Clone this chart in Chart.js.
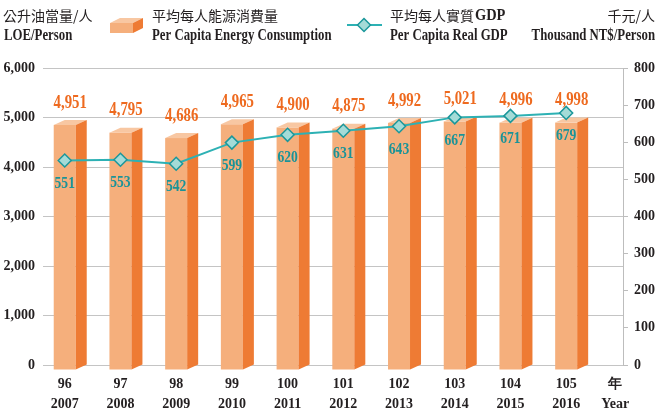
<!DOCTYPE html>
<html><head><meta charset="utf-8">
<script src="https://cdn.jsdelivr.net/npm/chart.js@4/dist/chart.umd.min.js"></script>
<style>html,body{margin:0;padding:0;background:#fff;}#wrap{width:658px;height:408px;position:relative;}</style>
</head><body><div id="wrap"><canvas id="c" width="658" height="408"></canvas></div>
<script>
// ---- data ----
const rocYears = ['96','97','98','99','100','101','102','103','104','105'];
const adYears = ['2007','2008','2009','2010','2011','2012','2013','2014','2015','2016'];
const yearUnit = ['年','Year'];
const energyPerCapita = [4951,4795,4686,4965,4900,4875,4992,5021,4996,4998];
const gdpPerCapita = [551,553,542,599,620,631,643,667,671,679];
const leftAxisRange = [0,6000,1000];
const rightAxisRange = [0,800,100];

// ---- styles ----
const FRONT = '#F5AF7C', SIDE = '#EE7B34', TOP = '#F8C7A2';
const LINE = '#2DB1B4', PFILL = '#A4DBD7', PBORDER = '#1B979B';
const DARK = '#231F20', ORANGE = '#EE6A1F', TEAL = '#1A9398';
const SERIF = '"Liberation Serif","Times New Roman",serif';
const CJK = '"Noto Sans CJK TC","Noto Sans CJK SC",sans-serif';
const DX = 11, DY = 5;

function fitText(ctx, text, x, y, font, color, align, sx) {
  ctx.save();
  ctx.font = font; ctx.fillStyle = color; ctx.textBaseline = 'middle';
  const w = ctx.measureText(text).width * sx;
  let left = align === 'center' ? x - w / 2 : align === 'right' ? x - w : x;
  ctx.translate(left, y); ctx.scale(sx, 1);
  ctx.textAlign = 'left';
  ctx.fillText(text, 0, 0);
  ctx.restore();
}

const bars3d = {
  id: 'bars3d',
  beforeDatasetDraw(chart, args) {
    if (args.index !== 0) return;
    const ctx = chart.ctx;
    ctx.save();
    args.meta.data.forEach(el => {
      const w = el.width, l = el.x - w / 2, r = el.x + w / 2;
      const top = el.y + DY, bot = el.base + DY;
      ctx.fillStyle = FRONT; ctx.fillRect(l, top, w, bot - top);
      ctx.fillStyle = TOP;
      ctx.beginPath(); ctx.moveTo(l, top); ctx.lineTo(r, top); ctx.lineTo(r + DX, el.y); ctx.lineTo(l + DX, el.y); ctx.closePath(); ctx.fill();
      ctx.fillStyle = SIDE;
      ctx.beginPath(); ctx.moveTo(r, top); ctx.lineTo(r + DX, el.y); ctx.lineTo(r + DX, el.base); ctx.lineTo(r, bot); ctx.closePath(); ctx.fill();
    });
    ctx.restore();
    return false;
  },
  afterDatasetsDraw(chart) {
    const ctx = chart.ctx;
    const m0 = chart.getDatasetMeta(0), m1 = chart.getDatasetMeta(1);
    m0.data.forEach((el, i) => {
      fitText(ctx, energyPerCapita[i].toLocaleString('en-US'), el.x + DX / 2, el.y - 17, 'bold 18px ' + SERIF, ORANGE, 'center', 0.82);
    });
    m1.data.forEach((el, i) => {
      fitText(ctx, String(gdpPerCapita[i]), el.x, el.y + 23, 'bold 17px ' + SERIF, TEAL, 'center', 0.8);
    });
  },
  afterDraw(chart) {
    const ctx = chart.ctx;
    ctx.save(); ctx.font = '14px ' + CJK; ctx.fillStyle = DARK; ctx.textBaseline = 'middle';
    ctx.textAlign = 'left';
    ctx.fillText('公升油當量/人', 3, 16);
    ctx.fillText('平均每人能源消費量', 152, 16);
    ctx.fillText('平均每人實質', 390, 16);
    const gx = 390 + ctx.measureText('平均每人實質').width;
    ctx.textAlign = 'right';
    ctx.fillText('千元/人', 655, 16);
    ctx.restore();
    fitText(ctx, 'GDP', gx + 1, 16, 'bold 16px ' + SERIF, DARK, 'left', 0.9);
    fitText(ctx, 'LOE/Person', 4, 36, 'bold 16px ' + SERIF, DARK, 'left', 0.8);
    fitText(ctx, 'Per Capita Energy Consumption', 152, 36, 'bold 16px ' + SERIF, DARK, 'left', 0.8);
    fitText(ctx, 'Per Capita Real GDP', 390, 36, 'bold 16px ' + SERIF, DARK, 'left', 0.8);
    fitText(ctx, 'Thousand NT$/Person', 655, 36, 'bold 16px ' + SERIF, DARK, 'right', 0.8);
    ctx.save();
    ctx.fillStyle = FRONT; ctx.fillRect(110, 23, 23, 10);
    ctx.fillStyle = TOP; ctx.beginPath(); ctx.moveTo(110, 23); ctx.lineTo(133, 23); ctx.lineTo(143, 18); ctx.lineTo(120, 18); ctx.closePath(); ctx.fill();
    ctx.fillStyle = SIDE; ctx.beginPath(); ctx.moveTo(133, 23); ctx.lineTo(143, 18); ctx.lineTo(143, 28); ctx.lineTo(133, 33); ctx.closePath(); ctx.fill();
    ctx.strokeStyle = LINE; ctx.lineWidth = 2;
    ctx.beginPath(); ctx.moveTo(347, 25); ctx.lineTo(382, 25); ctx.stroke();
    ctx.fillStyle = PFILL; ctx.strokeStyle = PBORDER; ctx.lineWidth = 1.5;
    ctx.beginPath(); ctx.moveTo(364, 18.5); ctx.lineTo(370.5, 25); ctx.lineTo(364, 31.5); ctx.lineTo(357.5, 25); ctx.closePath(); ctx.fill(); ctx.stroke();
    ctx.restore();
  }
};

new Chart(document.getElementById('c'), {
  type: 'bar',
  data: {
    datasets: [
      { type: 'bar', label: '平均每人能源消費量', data: energyPerCapita.map((v, i) => ({ x: i, y: v })),
        yAxisID: 'y', xAxisID: 'x', order: 2, barThickness: 22, backgroundColor: FRONT },
      { type: 'line', label: '平均每人實質GDP', data: gdpPerCapita.map((v, i) => ({ x: i, y: v })),
        yAxisID: 'y1', xAxisID: 'x', order: 1, borderColor: LINE, borderWidth: 2, tension: 0,
        pointStyle: 'rectRot', pointRadius: 6.5, pointBackgroundColor: PFILL, pointBorderColor: PBORDER, pointBorderWidth: 1.5 }
    ]
  },
  options: {
    responsive: false, animation: false, devicePixelRatio: 1,
    layout: { padding: { top: 68, left: 0, right: 0, bottom: 0 } },
    plugins: { legend: { display: false }, tooltip: { enabled: false } },
    scales: {
      x: {
        type: 'linear', position: 'bottom', min: -0.39, max: 10.02, bounds: 'data', offset: false,
        grid: { display: false, drawTicks: false }, border: { display: false },
        afterBuildTicks: s => { s.ticks = rocYears.map((_, i) => ({ value: i })).concat([{ value: 9.88 }]); },
        ticks: {
          autoSkip: false, maxRotation: 0, minRotation: 0, padding: 9, color: DARK,
          font: { family: SERIF, size: 14, weight: 'bold', lineHeight: 1.45 },
          callback: (v, i) => i < rocYears.length ? [rocYears[i], adYears[i]] : yearUnit
        },
        afterFit: s => { s.height = 43; }
      },
      y: {
        position: 'left', min: leftAxisRange[0], max: leftAxisRange[1],
        grid: { color: '#C4C4C4', lineWidth: 1, drawTicks: false }, border: { display: false },
        ticks: { stepSize: leftAxisRange[2], padding: 8, color: DARK, font: { family: SERIF, size: 14, weight: 'bold' },
          callback: v => v.toLocaleString('en-US') },
        afterFit: s => { s.width = 43; }
      },
      y1: {
        position: 'right', min: rightAxisRange[0], max: rightAxisRange[1],
        grid: { drawOnChartArea: false, drawTicks: true, tickLength: 5, color: '#BDBDBD' },
        border: { display: true, color: '#BDBDBD' },
        ticks: { stepSize: rightAxisRange[2], padding: 6, color: DARK, font: { family: SERIF, size: 14, weight: 'bold' } },
        afterFit: s => { s.width = 35; }
      }
    }
  },
  plugins: [bars3d]
});
</script></body></html>
